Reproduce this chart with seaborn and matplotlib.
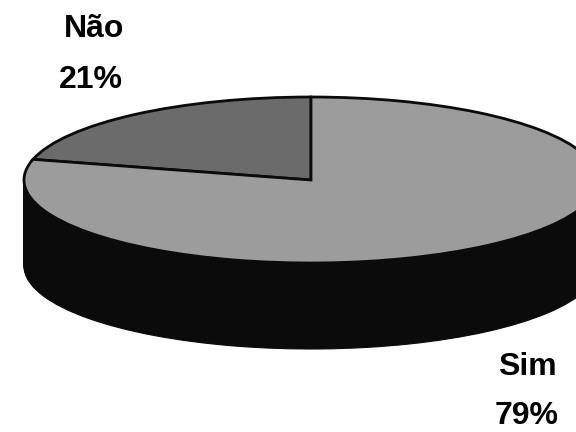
import matplotlib
matplotlib.use("Agg")
import matplotlib.pyplot as plt
import seaborn as sns

categorias = ["Não", "Sim"]
valores = [21, 79]
cores = ["#6b6b6b", "#9c9c9c"]
cor_lateral = "#0b0b0b"

sns.set_theme(style="white")
plt.rcParams["font.family"] = ["Liberation Sans", "DejaVu Sans"]

W, H = 576, 432
cx, cy = 311, 180
rx, ry = 287, 83
profundidade = 86

fig = plt.figure(figsize=(W / 100, H / 100), dpi=100)
ax = fig.add_axes([0, 0, 1, 1])

# lateral do "3D": varias pizzas escuras empilhadas
for dy in range(profundidade, 0, -1):
    ax.pie(valores, colors=[cor_lateral] * 2, startangle=90, center=(0, -dy / ry),
           wedgeprops={"linewidth": 0.8, "edgecolor": cor_lateral})

ax.pie(valores, colors=cores, startangle=90,
       wedgeprops={"linewidth": 2, "edgecolor": "#0b0b0b"})

# eixo em unidades do raio, para a elipse cair nos pixels certos
ax.set_aspect("auto")
ax.set_xlim(-cx / rx, (W - cx) / rx)
ax.set_ylim(-(H - cy) / ry, cy / ry)

estilo = {"ha": "center", "va": "center", "fontsize": 23, "fontweight": "bold", "color": "black"}
fig.text(94 / W, 1 - 29 / H, categorias[0], **estilo)
fig.text(91 / W, 1 - 80 / H, f"{valores[0]}%", **estilo)
fig.text(527 / W, 1 - 367 / H, categorias[1], **estilo)
fig.text(527 / W, 1 - 416 / H, f"{valores[1]}%", **estilo)

fig.savefig("out.png", dpi=100)
